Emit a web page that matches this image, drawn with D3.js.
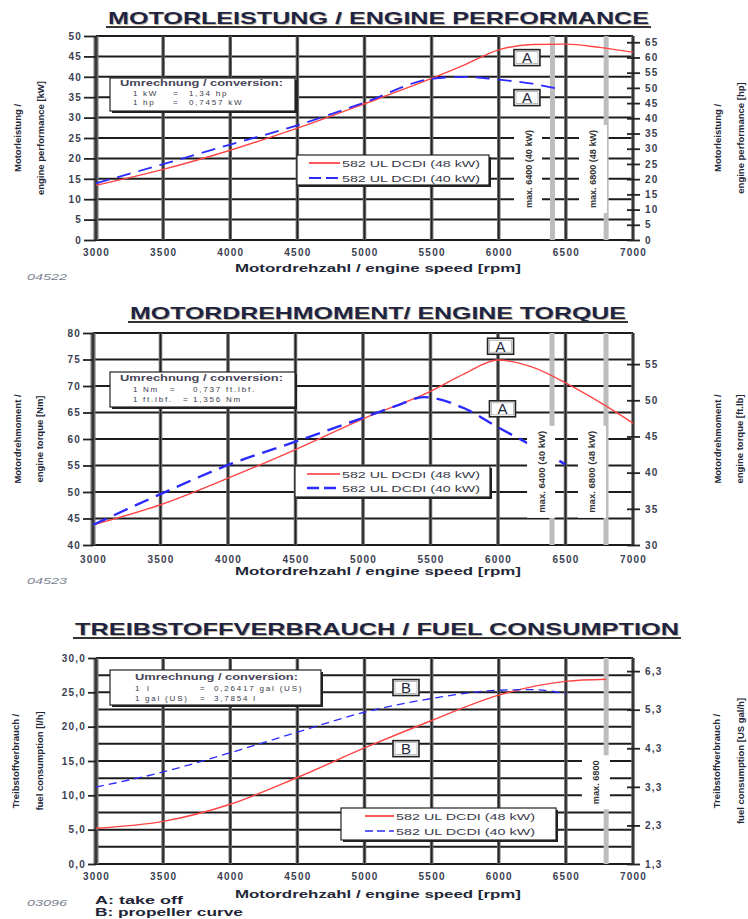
<!DOCTYPE html>
<html>
<head>
<meta charset="utf-8">
<script src="https://cdn.jsdelivr.net/npm/d3@7"></script>
<style>
  body { margin: 0; background: #fff; }
  svg text { font-family: "Liberation Sans", Arial, sans-serif; fill: #2a2d3c; }
</style>
</head>
<body>
<svg id="chart" width="748" height="919"></svg>
<script>
// ---- data ----
var rpmTicks = [3000, 3500, 4000, 4500, 5000, 5500, 6000, 6500, 7000];
var seriesNames = ["582 UL DCDI (48 kW)", "582 UL DCDI (40 kW)"];

// engine performance [kW]
var powerRpm48 = [3000, 3500, 4000, 4500, 5000, 5500, 5750, 6000, 6250, 6500, 6750, 7000];
var power48    = [13.4, 17.3, 22.0, 27.4, 33.4, 39.6, 43.0, 46.6, 47.9, 48.0, 47.2, 46.0];
var powerRpm40 = [3000, 3500, 4000, 4500, 5000, 5500, 5750, 6000, 6250, 6450];
var power40    = [13.9, 18.6, 23.4, 28.1, 33.7, 39.5, 40.0, 39.3, 38.3, 37.0];
var powerTicksKw = [0, 5, 10, 15, 20, 25, 30, 35, 40, 45, 50];
var powerTicksHp = [0, 5, 10, 15, 20, 25, 30, 35, 40, 45, 50, 55, 60, 65];

// engine torque [Nm]
var torqueRpm48 = [3000, 3500, 4000, 4500, 5000, 5500, 5750, 6000, 6250, 6500, 6750, 7000];
var torque48    = [43.8, 47.6, 52.6, 58.0, 63.8, 69.0, 72.3, 74.9, 73.6, 70.6, 67.0, 63.0];
var torqueRpm40 = [3000, 3500, 4000, 4500, 5000, 5250, 5450, 5750, 6000, 6250, 6500];
var torque40    = [43.8, 49.6, 55.1, 59.5, 64.0, 66.3, 67.9, 65.8, 62.2, 58.8, 55.2];
var torqueTicksNm = [40, 45, 50, 55, 60, 65, 70, 75, 80];
var torqueTicksFt = [30, 35, 40, 45, 50, 55];

// fuel consumption [l/h]
var fuelRpm48 = [3000, 3500, 4000, 4500, 5000, 5500, 6000, 6500, 6800];
var fuel48    = [5.2, 6.2, 8.7, 12.6, 16.9, 20.9, 24.6, 26.6, 26.9];
var fuelRpm40 = [3000, 3500, 4000, 4500, 5000, 5500, 6000, 6250, 6500];
var fuel40    = [11.2, 13.4, 16.2, 19.2, 22.1, 24.1, 25.3, 25.4, 24.8];
var fuelTicksL = [0, 5, 10, 15, 20, 25, 30];
var fuelGridL = [0, 2.5, 5, 7.5, 10, 12.5, 15, 17.5, 20, 22.5, 25, 27.5, 30];
var fuelTicksGal = [1.3, 2.3, 3.3, 4.3, 5.3, 6.3];

// rpm limits
var limitsPower = [6400, 6800];
var limitsFuel = [6800];
var limitLabels = ["max. 6400 (40 kW)", "max. 6800 (48 kW)"];

var svg = d3.select("#chart");
var comma = function(d){ return d3.format(".1f")(d).replace(".", ","); };

function zip(xs, ys){ return xs.map(function(v,i){ return [v, ys[i]]; }); }

function panel(p){
  var x = d3.scaleLinear().domain([3000, 7000]).range([p.left, p.right]);
  var y = d3.scaleLinear().domain(p.yDomain).range([p.bottom, p.top]);
  var yR = d3.scaleLinear().domain(p.rDomain).range([p.bottom, p.top]);
  var g = svg.append("g");

  // title
  g.append("text").attr("x", p.titleX[0] + 1).attr("y", p.titleY + 1)
    .attr("textLength", p.titleX[1] - p.titleX[0]).attr("lengthAdjust", "spacingAndGlyphs")
    .style("font-size", "17px").style("font-weight", "bold").style("fill", "#c9b79a").text(p.title);
  g.append("text").attr("x", p.titleX[0]).attr("y", p.titleY)
    .attr("textLength", p.titleX[1] - p.titleX[0]).attr("lengthAdjust", "spacingAndGlyphs")
    .style("font-size", "17px").style("font-weight", "bold").style("fill", "#1d2444").text(p.title);
  g.append("line").attr("x1", p.titleX[0] - 2).attr("x2", p.titleX[1] + 2)
    .attr("y1", p.titleY + 3).attr("y2", p.titleY + 3).attr("stroke", "#333").attr("stroke-width", 2);

  // grid
  g.append("g").selectAll("line").data(p.hGrid).join("line")
    .attr("x1", p.left).attr("x2", p.right).attr("y1", function(d){ return y(d); }).attr("y2", function(d){ return y(d); })
    .attr("stroke", "#1c1c1c").attr("stroke-width", 2);
  var vg = g.append("g");
  vg.selectAll(".o").data(rpmTicks).join("line").attr("class", "o")
    .attr("x1", function(d){ return x(d); }).attr("x2", function(d){ return x(d); })
    .attr("y1", p.top).attr("y2", p.bottom)
    .attr("stroke", "#6a6a6a").attr("stroke-width", function(d){ return d === 3000 ? 5 : 3.5; });
  vg.selectAll(".i").data(rpmTicks).join("line").attr("class", "i")
    .attr("x1", function(d){ return x(d); }).attr("x2", function(d){ return x(d); })
    .attr("y1", p.top).attr("y2", p.bottom).attr("stroke", "#222").attr("stroke-width", 1.4);

  // limit bands
  g.append("g").selectAll("line").data(p.limits).join("line")
    .attr("x1", function(d){ return x(d); }).attr("x2", function(d){ return x(d); })
    .attr("y1", p.top).attr("y2", p.bottom).attr("stroke", "#bdbdbd").attr("stroke-width", 5);

  // curves
  var line = d3.line().x(function(d){ return x(d[0]); }).y(function(d){ return y(d[1]); }).curve(d3.curveMonotoneX);
  g.append("path").datum(p.s48).attr("d", line).attr("fill", "none")
    .attr("stroke", "#ff4545").attr("stroke-width", 1.4);
  g.append("path").datum(p.s40).attr("d", line).attr("fill", "none")
    .attr("stroke", "#2a2aff").attr("stroke-width", p.blueW).attr("stroke-dasharray", p.dash);

  // limit labels
  p.limitText.forEach(function(l){
    var cx = x(l.rpm), cy = y(l.v);
    g.append("rect").attr("x", cx - 14).attr("y", cy - l.len / 2 - 5).attr("width", 28).attr("height", l.len + 10).attr("fill", "#fff");
    g.append("text").attr("transform", "translate(" + (cx + 3.5) + "," + cy + ") rotate(-90)")
      .attr("text-anchor", "middle").attr("textLength", l.len).attr("lengthAdjust", "spacingAndGlyphs")
      .style("font-size", "9.5px").style("font-weight", "bold").style("fill", "#333").text(l.text);
  });

  // legend
  var L = p.legend;
  g.append("rect").attr("x", L.x + 2).attr("y", L.y + 2).attr("width", L.w).attr("height", L.h).attr("fill", "#222");
  g.append("rect").attr("x", L.x).attr("y", L.y).attr("width", L.w).attr("height", L.h)
    .attr("fill", "#fff").attr("stroke", "#222").attr("stroke-width", 1.2);
  [0, 1].forEach(function(i){
    var ly = L.y + L.rows[i];
    g.append("line").attr("x1", L.lx[0]).attr("x2", L.lx[1]).attr("y1", ly).attr("y2", ly)
      .attr("stroke", i === 0 ? "#ff3030" : "#2a2aff").attr("stroke-width", i === 0 ? 1.6 : p.blueW)
      .attr("stroke-dasharray", i === 0 ? null : p.legDash);
    g.append("text").attr("x", L.lx[1] + 2).attr("y", ly + 3.5).attr("textLength", L.tl).attr("lengthAdjust", "spacingAndGlyphs")
      .style("font-size", "9.5px").style("fill", "#3a3a4a").text(seriesNames[i]);
  });

  // conversion box
  var C = p.conv;
  g.append("rect").attr("x", C.x + 2).attr("y", C.y + 2).attr("width", C.w).attr("height", C.h).attr("fill", "#222");
  g.append("rect").attr("x", C.x).attr("y", C.y).attr("width", C.w).attr("height", C.h)
    .attr("fill", "#fff").attr("stroke", "#222").attr("stroke-width", 1.2);
  g.append("text").attr("x", C.tx).attr("y", C.rows[0]).attr("textLength", 163).attr("lengthAdjust", "spacingAndGlyphs")
    .style("font-size", "8.5px").style("font-weight", "bold").style("fill", "#4a4458").text("Umrechnung / conversion:");
  C.lines.forEach(function(row, i){
    row.forEach(function(piece){
      g.append("text").attr("x", piece[0]).attr("y", C.rows[i + 1])
        .style("font-size", "8px").style("letter-spacing", "1.8px").style("fill", "#3a3a4a").text(piece[1]);
    });
  });

  // boxed letters
  p.marks.forEach(function(m){
    var cx = x(m.rpm), cy = y(m.v);
    g.append("rect").attr("x", cx - 13).attr("y", cy - 8).attr("width", 26).attr("height", 16)
      .attr("fill", "#fff").attr("stroke", "#222").attr("stroke-width", 1.6);
    g.append("rect").attr("x", cx - 11).attr("y", cy - 6).attr("width", 22).attr("height", 12)
      .attr("fill", "none").attr("stroke", "#aaa").attr("stroke-width", 0.8);
    g.append("text").attr("x", cx).attr("y", cy + 5.5).attr("text-anchor", "middle")
      .style("font-size", "15px").style("fill", "#24283c").text(m.t);
  });

  // axes
  function styleAxis(s){
    s.select(".domain").remove();
    s.selectAll(".tick line").attr("stroke", "#222").attr("stroke-width", 1.8);
    s.selectAll(".tick text").style("font-size", "10px").style("font-weight", "bold")
      .style("letter-spacing", "1.2px").style("fill", "#3b3f52").style("font-family", '"Liberation Sans", Arial, sans-serif');
  }
  g.append("g").attr("transform", "translate(" + p.left + ",0)")
    .call(d3.axisLeft(y).tickValues(p.yTicks).tickSize(p.tickL).tickPadding(2).tickFormat(p.fmtL)).call(styleAxis);
  g.append("g").attr("transform", "translate(" + (p.right - 6) + ",0)")
    .call(d3.axisRight(yR).tickValues(p.rTicks).tickSize(13).tickPadding(5).tickFormat(p.fmtR)).call(styleAxis);
  g.append("g").attr("transform", "translate(0," + p.bottom + ")")
    .call(d3.axisBottom(x).tickValues(rpmTicks).tickSize(0).tickPadding(p.xPad).tickFormat(d3.format("d"))).call(styleAxis);

  g.append("text").attr("x", 235).attr("y", p.xTitleY).attr("textLength", 286).attr("lengthAdjust", "spacingAndGlyphs")
    .style("font-size", "11.5px").style("font-weight", "bold").style("fill", "#232738")
    .text("Motordrehzahl / engine speed [rpm]");

  // side titles
  var cy = (p.top + p.bottom) / 2;
  [[p.leftT[0], p.lx[0]], [p.leftT[1], p.lx[1]], [p.rightT[0], p.rx[0]], [p.rightT[1], p.rx[1]]].forEach(function(t){
    g.append("text").attr("transform", "translate(" + t[1] + "," + cy + ") rotate(-90)")
      .attr("text-anchor", "middle").attr("dy", "0.35em")
      .style("font-size", "9.5px").style("font-weight", "bold").style("fill", "#232738").text(t[0]);
  });

  g.append("text").attr("x", 27).attr("y", p.codeY).attr("textLength", 40).attr("lengthAdjust", "spacingAndGlyphs")
    .style("font-size", "9px").style("font-style", "italic").style("fill", "#7a7f90").text(p.code);
}

panel({
  title: "MOTORLEISTUNG / ENGINE PERFORMANCE", titleX: [108, 649], titleY: 24,
  left: 96, right: 633, top: 36, bottom: 240,
  yDomain: [0, 50], rDomain: [0, 67.05],
  yTicks: powerTicksKw, rTicks: powerTicksHp, hGrid: powerTicksKw,
  fmtL: d3.format("d"), fmtR: d3.format("d"), tickL: 12,
  s48: zip(powerRpm48, power48), s40: zip(powerRpm40, power40),
  blueW: 1.8, dash: "14,8", legDash: "12,5",
  limits: limitsPower,
  limitText: [{ rpm: 6218, v: 17.4, text: limitLabels[0], len: 78 }, { rpm: 6702, v: 17.4, text: limitLabels[1], len: 78 }],
  legend: { x: 297, y: 155, w: 192, h: 30, rows: [8, 23], lx: [309, 340], tl: 138 },
  conv: { x: 110, y: 78, w: 185, h: 33, tx: 120, rows: [86, 96, 105],
    lines: [[[133, "1"], [143, "kW"], [173, "="], [189, "1,34 hp"]],
            [[133, "1"], [143, "hp"], [173, "="], [189, "0,7457 kW"]]] },
  marks: [{ rpm: 6210, v: 44.7, t: "A" }, { rpm: 6210, v: 34.9, t: "A" }],
  xPad: 9, xTitleY: 272,
  leftT: ["Motorleistung /", "engine performance [kW]"], lx: [18, 41],
  rightT: ["Motorleistung /", "engine performance [hp]"], rx: [718, 741],
  code: "04522", codeY: 280
});

panel({
  title: "MOTORDREHMOMENT/ ENGINE TORQUE", titleX: [130, 626], titleY: 319,
  left: 93, right: 633, top: 333, bottom: 545,
  yDomain: [40, 80], rDomain: [30, 59.3],
  yTicks: torqueTicksNm, rTicks: torqueTicksFt, hGrid: torqueTicksNm,
  fmtL: d3.format("d"), fmtR: d3.format("d"), tickL: 10,
  s48: zip(torqueRpm48, torque48), s40: zip(torqueRpm40, torque40),
  blueW: 2.4, dash: "15,8", legDash: "12,5",
  limits: limitsPower,
  limitText: [{ rpm: 6319, v: 53.8, text: limitLabels[0], len: 82 }, { rpm: 6696, v: 53.8, text: limitLabels[1], len: 82 }],
  legend: { x: 295, y: 466, w: 195, h: 31, rows: [8, 22], lx: [307, 340], tl: 138 },
  conv: { x: 110, y: 372, w: 185, h: 35, tx: 120, rows: [381, 392, 402],
    lines: [[[133, "1"], [143, "Nm"], [170, "="], [193, "0,737 ft.lbf."]],
            [[133, "1"], [143, "ft.lbf."], [183, "="], [193, "1,356 Nm"]]] },
  marks: [{ rpm: 6019, v: 77.5, t: "A" }, { rpm: 6033, v: 65.7, t: "A" }],
  xPad: 11, xTitleY: 575,
  leftT: ["Motordrehmoment /", "engine torque [Nm]"], lx: [18, 40],
  rightT: ["Motordrehmoment /", "engine torque [ft.lb]"], rx: [718, 740],
  code: "04523", codeY: 584
});

panel({
  title: "TREIBSTOFFVERBRAUCH / FUEL CONSUMPTION", titleX: [75, 679], titleY: 635,
  left: 96, right: 633, top: 658, bottom: 864,
  yDomain: [0, 30], rDomain: [1.3, 6.64],
  yTicks: fuelTicksL, rTicks: fuelTicksGal, hGrid: fuelGridL,
  fmtL: comma, fmtR: comma, tickL: 8,
  s48: zip(fuelRpm48, fuel48), s40: zip(fuelRpm40, fuel40),
  blueW: 1.3, dash: "8,5", legDash: "8,4",
  limits: limitsFuel,
  limitText: [{ rpm: 6724, v: 11.9, text: "max. 6800", len: 44 }],
  legend: { x: 341, y: 808, w: 215, h: 32, rows: [8, 23], lx: [365, 394], tl: 139 },
  conv: { x: 110, y: 670, w: 211, h: 35, tx: 135, rows: [680, 691, 701],
    lines: [[[135, "1"], [147, "l"], [200, "="], [214, "0,26417 gal (US)"]],
            [[135, "1"], [145, "gal (US)"], [200, "="], [214, "3,7854 l"]]] },
  marks: [{ rpm: 5309, v: 25.7, t: "B" }, { rpm: 5309, v: 16.8, t: "B" }],
  xPad: 9, xTitleY: 898,
  leftT: ["Treibstoffverbrauch /", "fuel consumption [l/h]"], lx: [16, 40],
  rightT: ["Treibstoffverbrauch /", "fuel consumption [US gal/h]"], rx: [717, 741],
  code: "03096", codeY: 906
});

// footnotes
svg.append("text").attr("x", 95).attr("y", 904).attr("textLength", 88).attr("lengthAdjust", "spacingAndGlyphs")
  .style("font-size", "10px").style("font-weight", "bold").style("fill", "#1f2336").text("A: take off");
svg.append("text").attr("x", 95).attr("y", 916).attr("textLength", 148).attr("lengthAdjust", "spacingAndGlyphs")
  .style("font-size", "10px").style("font-weight", "bold").style("fill", "#1f2336").text("B: propeller curve");
</script>
</body>
</html>
